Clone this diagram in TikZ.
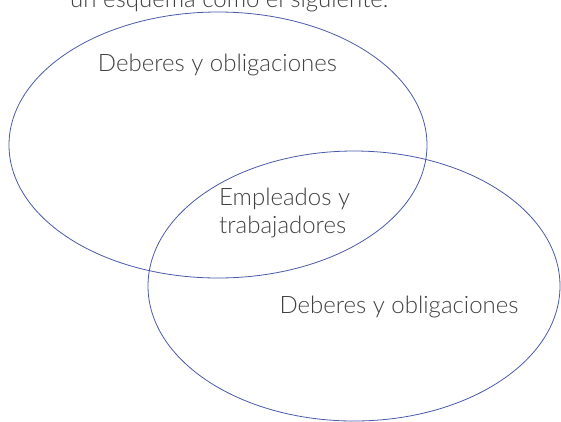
\documentclass[tikz,border=0pt]{standalone}
\usepackage{fontspec}
\setmainfont{Lato Light}
\usetikzlibrary{shapes.geometric}

\definecolor{vennblue}{HTML}{4A5AA8}
\definecolor{textgray}{HTML}{404040}

\begin{document}
\begin{tikzpicture}[
    x=1pt, y=-1pt,
    font=\fontsize{24}{28}\selectfont,
    venn/.style={ellipse, draw=vennblue, line width=0.8pt, inner sep=0pt},
    etiqueta/.style={text=textgray, inner sep=0pt}
]
    \useasboundingbox (0,0) rectangle (561,421);
    \clip (0,0) rectangle (561,421);

    % --- Texto previo (cortado) ---
    \node[etiqueta, anchor=base west] (intro) at (70,7) {un esquema como el siguiente.};

    % --- Conjuntos ---
    \node[venn, minimum width=418pt, minimum height=266pt] (conjuntoA) at (218,145) {};
    \node[venn, minimum width=412pt, minimum height=270pt] (conjuntoB) at (354,286) {};

    % --- Etiquetas ---
    \node[etiqueta, anchor=base] (deberesA) at (217.5,71) {Deberes y obligaciones};
    \node[etiqueta, anchor=base] (deberesB) at (399,313) {Deberes y obligaciones};
    \node[etiqueta, anchor=base west, align=left] (empleados) at (219,233) {Empleados y\\trabajadores};

\end{tikzpicture}
\end{document}
